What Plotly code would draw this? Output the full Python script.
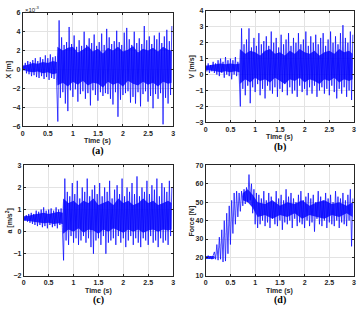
import numpy as np
import plotly.graph_objects as go

W, H = 361, 316
DT = 0.025  # sample spacing of the envelope readings (s)

# ---- (a) displacement, units of 1e-3 m (peaks/troughs)
x_vals = [0.5, -0.1, 0.7, -0.4, 0.9, -0.5, 0.8, -0.7, 1.0, -0.6, 1.2, -0.8, 0.9, -0.9,
          1.3, -0.7, 1.1, -1.0, 1.5, -0.8, 1.2, -1.1, 1.6, -0.9, 1.3, -1.0, 1.4, -1.2,
          -5.5, 5.2, -3.0, 3.4, -2.4, 2.6, -3.6, 2.9, -4.4, 4.5,
          -2.2, 2.7, -2.9, 3.6, -2.1, 2.4, -3.4, 3.1, -2.6, 2.5,
          -2.3, 4.0, -3.1, 2.6, -2.5, 3.3, -3.8, 2.8, -2.2, 3.7,
          -2.7, 2.5, -3.3, 2.9, -2.4, 3.8, -2.8, 2.6, -2.5, 4.3,
          -2.6, 3.4, -3.1, 2.7, -3.7, 3.0, -2.4, 4.1, -5.0, 2.9,
          -3.2, 2.6, -2.7, 3.9, -2.5, 4.4, -2.3, 3.2, -3.5, 2.6,
          -2.9, 4.0, -3.6, 2.8, -2.4, 3.3, -3.9, 2.7, -2.6, 4.6,
          -2.3, 3.1, -3.4, 3.5, -2.8, 2.7, -4.1, 3.6, -2.6, 3.2,
          -3.1, 3.9, -2.5, 2.8, -5.8, 3.5, -3.0, 4.2, -3.6, 3.0,
          -2.7, 4.6]
x_core_t = [0, 0.1, 0.2, 0.3, 0.4, 0.5, 0.6, 0.68,
            0.69, 0.8, 0.9, 1.0, 1.1, 1.2, 1.3, 1.4, 1.5, 1.6, 1.7, 1.8, 1.9, 2.0,
            2.1, 2.2, 2.3, 2.4, 2.5, 2.6, 2.7, 2.8, 2.9, 2.97]
x_core_hi = [0.4, 0.5, 0.7, 0.6, 0.8, 0.7, 0.9, 0.8,
             2.4, 2.0, 2.3, 2.4, 1.8, 2.1, 2.5, 1.9, 2.2, 1.7, 2.3, 2.0, 2.4, 1.9,
             2.1, 2.5, 1.8, 2.2, 2.0, 2.3, 1.9, 2.4, 2.1, 2.0]
x_core_lo = [0.0, -0.2, -0.3, -0.2, -0.4, -0.3, -0.5, -0.4,
             -1.7, -1.4, -1.8, -1.3, -1.6, -1.2, -1.7, -1.4, -1.5, -1.9, -1.3, -1.6,
             -1.4, -1.8, -1.2, -1.5, -1.7, -1.3, -1.6, -1.4, -1.8, -1.3, -1.5, -1.4]

# ---- (b) velocity, m/s
v_vals = [0.6, 0.2, 0.7, 0.1, 0.6, 0.2, 0.8, 0.1, 0.7, 0.0, 0.9, -0.1, 1.0, 0.1,
          0.8, -0.2, 1.1, 0.0, 0.9, -0.1, 1.0, -0.3, 0.9, 0.0, 1.1, -0.1, 0.8, 0.0,
          -2.0, 2.9, -0.9, 1.9, -1.3, 2.2, -0.7, 2.9, -1.8, 1.7,
          -0.8, 2.3, -1.1, 1.8, -0.6, 2.6, -1.3, 1.9, -0.9, 2.1,
          -1.5, 2.4, -0.7, 1.8, -1.0, 2.7, -1.2, 2.0, -0.8, 2.3,
          -1.4, 1.7, -0.9, 2.5, -1.1, 1.9, -0.6, 2.2, -1.3, 2.6,
          -0.8, 1.8, -1.2, 2.3, -1.0, 2.0, -1.4, 2.6, -0.7, 1.9,
          -1.1, 2.2, -0.9, 2.7, -1.3, 1.8, -0.8, 2.4, -1.2, 2.0,
          -0.7, 2.5, -1.4, 1.9, -1.0, 2.3, -0.8, 2.6, -1.2, 1.8,
          -0.9, 2.2, -1.3, 2.7, -0.7, 2.0, -1.1, 2.4, -1.5, 1.9,
          -0.9, 2.6, -1.2, 3.1, -0.8, 2.3, -1.4, 2.0, -1.0, 2.7,
          -1.6, 2.5]
v_core_t = x_core_t
v_core_hi = [0.55, 0.6, 0.65, 0.7, 0.65, 0.7, 0.65, 0.7,
             1.6, 1.3, 1.5, 1.4, 1.2, 1.5, 1.6, 1.3, 1.4, 1.2, 1.5, 1.3, 1.6, 1.4,
             1.3, 1.5, 1.2, 1.4, 1.5, 1.3, 1.6, 1.4, 1.5, 1.3]
v_core_lo = [0.3, 0.25, 0.2, 0.15, 0.2, 0.15, 0.2, 0.15,
             -0.6, -0.3, -0.5, -0.2, -0.4, -0.3, -0.5, -0.2, -0.4, -0.6, -0.3, -0.4,
             -0.2, -0.5, -0.3, -0.4, -0.6, -0.3, -0.4, -0.2, -0.5, -0.3, -0.4, -0.3]

# ---- (c) acceleration, m/s^2
a_vals = [0.7, 0.5, 0.75, 0.45, 0.8, 0.4, 0.85, 0.35, 0.8, 0.3, 0.95, 0.25, 0.9, 0.3,
          1.0, 0.2, 1.1, 0.25, 0.95, 0.15, 1.0, 0.3, 1.05, 0.2, 0.95, 0.25, 1.1, 0.15,
          1.0, 0.3, 1.05, 0.2,
          -1.3, 2.4, -0.4, 1.8, -0.6, 1.6, -0.2, 2.2, -0.5, 1.7,
          -0.3, 2.3, -0.6, 1.5, -0.4, 2.0, -0.2, 1.8, -0.5, 2.4,
          -0.3, 1.6, -0.7, 1.9, -1.0, 2.1, -0.4, 1.7, -0.3, 2.2,
          -0.6, 1.6, -0.2, 2.0, -1.0, 1.8, -0.5, 2.3, -0.4, 1.5,
          -0.3, 1.9, -0.6, 2.1, -0.2, 1.7, -0.5, 2.4, -0.3, 1.6,
          -0.7, 2.0, -0.4, 1.8, -0.2, 2.2, -0.6, 1.7, -0.3, 2.5,
          -0.5, 1.6, -0.7, 2.0, -0.3, 1.8, -0.4, 2.3, -0.6, 1.7,
          -0.2, 2.1, -0.5, 1.9, -0.4, 2.4, -0.7, 1.6, -0.3, 2.2,
          -0.5, 2.0, -0.4, 1.8, -0.6, 2.3, -0.2, 2.0]
a_core_t = [0, 0.1, 0.2, 0.3, 0.4, 0.5, 0.6, 0.7, 0.78,
            0.79, 0.9, 1.0, 1.1, 1.2, 1.3, 1.4, 1.5, 1.6, 1.7, 1.8, 1.9, 2.0,
            2.1, 2.2, 2.3, 2.4, 2.5, 2.6, 2.7, 2.8, 2.9, 2.97]
a_core_hi = [0.7, 0.72, 0.78, 0.8, 0.85, 0.8, 0.85, 0.9, 0.85,
             1.5, 1.3, 1.4, 1.2, 1.4, 1.3, 1.5, 1.2, 1.3, 1.4, 1.2, 1.5, 1.3,
             1.4, 1.2, 1.3, 1.5, 1.3, 1.4, 1.2, 1.3, 1.4, 1.3]
a_core_lo = [0.5, 0.48, 0.45, 0.4, 0.38, 0.4, 0.35, 0.38, 0.35,
             -0.1, 0.1, 0.0, 0.15, -0.05, 0.1, 0.05, -0.1, 0.1, 0.0, 0.15, 0.05,
             -0.05, 0.1, 0.0, 0.1, -0.05, 0.05, 0.1, 0.0, 0.1, 0.05, 0.1]

# ---- (d) force, N
f_vals = [20.5, 19.5, 21, 19.5, 20.5, 19, 21,
          23, 19, 27, 18.5, 31, 19, 35, 17.5, 40, 18, 44, 22, 48, 27, 51, 33, 55, 38,
          56, 42, 55, 45, 56, 48,
          57, 49, 58, 50, 65, 51, 60, 44, 57, 38, 55, 36,
          54, 38, 52, 40, 56, 37, 51, 39, 55, 36,
          53, 41, 50, 38, 56, 37, 52, 40, 54, 35,
          51, 39, 57, 38, 53, 40, 55, 36, 52, 41,
          50, 37, 54, 39, 56, 38, 51, 36, 53, 40,
          55, 37, 52, 39, 54, 34, 50, 41, 56, 38,
          53, 37, 51, 40, 55, 36, 52, 39, 54, 38,
          50, 37, 56, 40, 53, 36, 52, 39, 55, 38,
          51, 37, 54, 40, 57, 26, 52]
f_core_t = [0, 0.17, 0.18, 0.74, 0.75, 0.85, 0.95, 1.05, 1.2, 1.35, 1.5, 1.65, 1.8,
            1.95, 2.1, 2.25, 2.4, 2.55, 2.7, 2.85, 2.97]
f_core_hi = [20.8, 20.8, 20, 53, 55, 57, 54, 50, 49, 51, 48, 50, 49, 51, 48, 50, 51,
             49, 50, 48, 50]
f_core_lo = [19.2, 19.2, 20, 53, 51, 50, 47, 42, 43, 41, 43, 42, 44, 41, 43, 42, 41,
             43, 42, 44, 42]

panels = [
    dict(vals=x_vals, ct=x_core_t, chi=x_core_hi, clo=x_core_lo, yr=[-6, 6], dt=2,
         box=(21, 9, 173, 125), ylabel="X [m]", ylx=7, tag="(a)"),
    dict(vals=v_vals, ct=v_core_t, chi=v_core_hi, clo=v_core_lo, yr=[-3, 4], dt=1,
         box=(206, 7, 356, 121), ylabel="V [m/s]", ylx=192, tag="(b)"),
    dict(vals=a_vals, ct=a_core_t, chi=a_core_hi, clo=a_core_lo, yr=[-2, 3], dt=1,
         box=(22, 165, 173, 278), ylabel="a [m/s<sup>2</sup>]", ylx=8, tag="(c)"),
    dict(vals=f_vals, ct=f_core_t, chi=f_core_hi, clo=f_core_lo, yr=[10, 70], dt=10,
         box=(206, 165, 356, 278), ylabel="Force [N]", ylx=192, tag="(d)"),
]

fig = go.Figure()
layout = dict(width=W, height=H, margin=dict(l=0, r=0, t=0, b=0),
              paper_bgcolor="white", plot_bgcolor="white", showlegend=False,
              annotations=[])

TICKFONT = dict(family="Liberation Sans", size=7, color="#262626", weight="bold")
LABFONT = dict(family="Liberation Sans", size=7, color="#262626", weight="bold")


def px(x):
    return x / W


def py(y):
    return 1 - y / H


for i, p in enumerate(panels):
    n = "" if i == 0 else str(i + 1)
    xa, ya = "x" + n, "y" + n
    t = np.arange(len(p["vals"])) * DT
    fig.add_trace(go.Scatter(x=t, y=p["vals"], mode="lines", xaxis=xa, yaxis=ya,
                             line=dict(color="rgba(0,0,255,0.7)", width=1.0),
                             hoverinfo="skip"))
    poly_x = list(p["ct"]) + list(p["ct"])[::-1]
    poly_y = list(p["chi"]) + list(p["clo"])[::-1]
    fig.add_trace(go.Scatter(x=poly_x, y=poly_y, mode="lines", fill="toself",
                             fillcolor="rgba(0,0,255,0.8)", line=dict(width=0),
                             xaxis=xa, yaxis=ya, hoverinfo="skip"))
    x0, y0, x1, y1 = p["box"]
    common = dict(showgrid=True, gridcolor="#e3e3e3", gridwidth=0.6, zeroline=False,
                  showline=True, linecolor="#262626", linewidth=0.8, mirror="ticks",
                  ticks="inside", ticklen=2, tickcolor="#262626", tickwidth=0.6,
                  tickfont=TICKFONT)
    layout["xaxis" + n] = dict(common, domain=[px(x0), px(x1)], anchor=ya,
                               range=[0, 3], dtick=0.5, tick0=0)
    layout["yaxis" + n] = dict(common, domain=[py(y1), py(y0)], anchor=xa,
                               range=p["yr"], dtick=p["dt"])
    cx = (x0 + x1) / 2
    layout["annotations"] += [
        dict(text="Time (s)", x=px(cx), y=py(y1 + 15), xref="paper", yref="paper",
             showarrow=False, font=LABFONT, xanchor="center", yanchor="middle"),
        dict(text=p["tag"], x=px(cx), y=py(y1 + 25), xref="paper",
             yref="paper", showarrow=False,
             font=dict(family="Liberation Serif", size=10, color="black", weight="bold"),
             xanchor="center", yanchor="middle"),
        dict(text=p["ylabel"], x=px(p["ylx"]), y=py((y0 + y1) / 2),
             xref="paper", yref="paper", showarrow=False, textangle=-90,
             font=LABFONT, xanchor="center", yanchor="middle"),
    ]

layout["annotations"].append(
    dict(text="\u00d710<sup>-3</sup>", x=px(21), y=py(5), xref="paper", yref="paper",
         showarrow=False, font=dict(family="Liberation Sans", size=6, color="#262626"),
         xanchor="left", yanchor="middle"))

fig.update_layout(**layout)
fig.write_html("out.html")
